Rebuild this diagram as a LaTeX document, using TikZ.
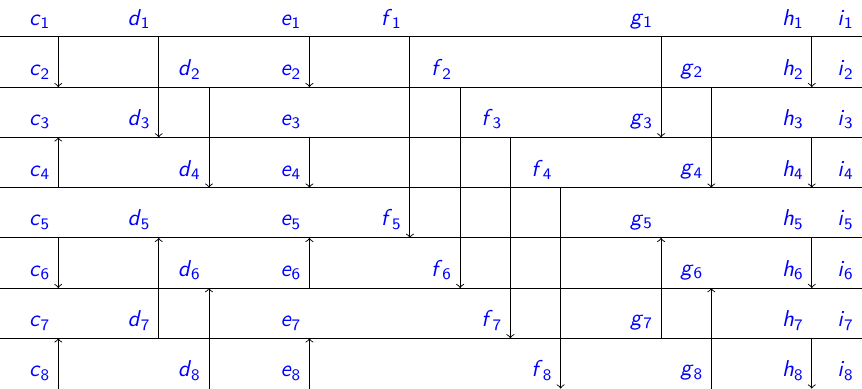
\documentclass[tikz,border=0pt]{standalone}

\newcommand{\lab}[2]{\textsl{#1}\textsubscript{#2}}

\begin{document}
\begin{tikzpicture}[
    x=0.77cm, y=0.77cm,
    every node/.style={font=\sffamily},
    >=to,
    wire/.style={line width=0.4pt, black},
    lbl/.style={anchor=south east, text=blue, font=\sffamily},
    swap/.style={->, line width=0.4pt, black},
]
\useasboundingbox (-0.16,-7) rectangle (17,0.735);

% === Grid points: row r, column k ===
\foreach \r in {1,...,8} {
    \coordinate (w\r) at (-0.16,{1-\r});
    \foreach \k in {1,...,17} {
        \coordinate (p\r-\k) at (\k,{1-\r});
    }
}

% === Horizontal wires ===
\foreach \r in {1,...,7} {
    \draw[wire] (w\r) -- (p\r-17);
}

% === Labels ===
\foreach \r in {1,...,8} {
    \pgfmathtruncatemacro{\odd}{mod(\r,2)}
    \pgfmathtruncatemacro{\dcol}{4-\odd}     % d: col 3 or 4
    \pgfmathtruncatemacro{\gcol}{14-\odd}    % g: col 13 or 14
    \pgfmathtruncatemacro{\fcol}{8+mod(\r-1,4)}
    \node[lbl] (c\r) at (p\r-1) {\lab{c}{\r}};
    \node[lbl] (d\r) at (p\r-\dcol) {\lab{d}{\r}};
    \node[lbl] (e\r) at (p\r-6) {\lab{e}{\r}};
    \node[lbl] (f\r) at (p\r-\fcol) {\lab{f}{\r}};
    \node[lbl] (g\r) at (p\r-\gcol) {\lab{g}{\r}};
    \node[lbl] (h\r) at (p\r-16) {\lab{h}{\r}};
    \node[lbl] (i\r) at (p\r-17) {\lab{i}{\r}};
}

% === Compare-exchange arrows ===
\foreach \a/\b in {
    p1-1/p2-1, p4-1/p3-1, p5-1/p6-1, p8-1/p7-1,         % c
    p1-3/p3-3, p2-4/p4-4, p7-3/p5-3, p8-4/p6-4,         % d
    p1-6/p2-6, p3-6/p4-6, p6-6/p5-6, p8-6/p7-6,         % e
    p1-8/p5-8, p2-9/p6-9, p3-10/p7-10, p4-11/p8-11,     % f
    p1-13/p3-13, p2-14/p4-14, p7-13/p5-13, p8-14/p6-14, % g
    p1-16/p2-16, p3-16/p4-16, p5-16/p6-16, p7-16/p8-16} % h
{
    \draw[swap] (\a) -- (\b);
}

\end{tikzpicture}
\end{document}
